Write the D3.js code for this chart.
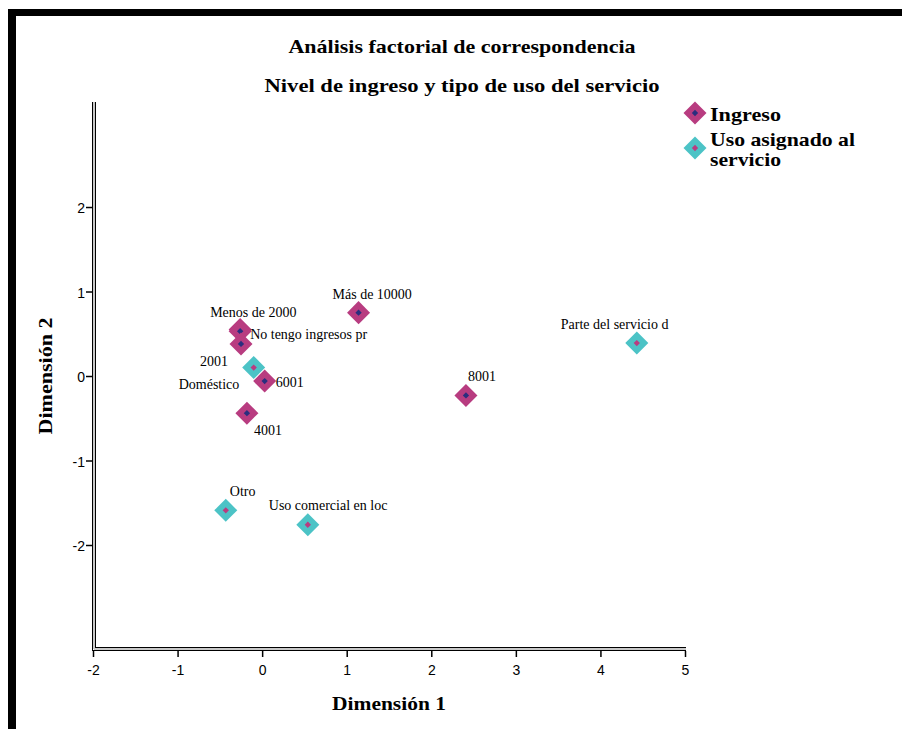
<!DOCTYPE html>
<html><head><meta charset="utf-8">
<script src="https://cdn.jsdelivr.net/npm/d3@7/dist/d3.min.js"></script>
<style>
html,body{margin:0;padding:0;background:#fff;}
svg{display:block;}
</style></head>
<body>
<svg id="chart" width="902" height="729"></svg>
<script>
// ---- data ----
const ingresoLabels = ["Menos de 2000","No tengo ingresos pr","2001","4001","6001","8001","Más de 10000"];
const ingresoDim1 = [-0.26,-0.26,-0.25,-0.18,0.03,2.41,1.14];
const ingresoDim2 = [0.55,0.53,0.38,-0.44,-0.06,-0.23,0.75];
const usoLabels = ["Doméstico","Parte del servicio d","Otro","Uso comercial en loc"];
const usoDim1 = [-0.10,4.43,-0.43,0.54];
const usoDim2 = [0.10,0.39,-1.59,-1.76];
const xTicks = [-2,-1,0,1,2,3,4,5];
const yTicks = [-2,-1,0,1,2];
const legendLabels = [["Ingreso"],["Uso asignado al","servicio"]];

// ---- label placement (layout, px offsets from point) ----
const labelOffset = {
  "Menos de 2000":[-30,-13],
  "No tengo ingresos pr":[10,8],
  "2001":[-41,22],
  "4001":[7,22],
  "6001":[11,6],
  "8001":[2,-14],
  "Más de 10000":[-26,-14],
  "Doméstico":[-75,21],
  "Parte del servicio d":[-76,-14],
  "Otro":[4,-14],
  "Uso comercial en loc":[-39,-15]
};

const MAG = "#b83c80", CYAN = "#4cc3c6", NAVY = "#2a2e7e";
const serif = "'Liberation Serif','Times New Roman',serif";
const sans = "'Liberation Sans',Arial,sans-serif";

const svg = d3.select("#chart");

// frame
svg.append("rect").attr("x",8).attr("y",9).attr("width",894).attr("height",7).attr("fill","#000");
svg.append("rect").attr("x",8).attr("y",9).attr("width",8).attr("height",720).attr("fill","#000");

// titles
function fitText(sel, w){ sel.attr("textLength", w).attr("lengthAdjust","spacingAndGlyphs"); }
svg.append("text").attr("x",462).attr("y",53).attr("text-anchor","middle")
  .attr("font-family",serif).attr("font-weight","bold").attr("font-size",19)
  .text("Análisis factorial de correspondencia").call(fitText,347);
svg.append("text").attr("x",462).attr("y",92).attr("text-anchor","middle")
  .attr("font-family",serif).attr("font-weight","bold").attr("font-size",19)
  .text("Nivel de ingreso y tipo de uso del servicio").call(fitText,395);

// scales
const x = d3.scaleLinear().domain([-2,5]).range([93,685]);
const y = d3.scaleLinear().domain([-3.219,3.231]).range([648,103]);

// axis lines (double line style)
const ax = svg.append("g");
ax.append("line").attr("x1",92.5).attr("x2",92.5).attr("y1",102).attr("y2",651).attr("stroke","#000").attr("stroke-width",1);
ax.append("line").attr("x1",94).attr("x2",94).attr("y1",102).attr("y2",649).attr("stroke","#c8c8c8").attr("stroke-width",2);
ax.append("line").attr("x1",95.5).attr("x2",95.5).attr("y1",102).attr("y2",647.5).attr("stroke","#000").attr("stroke-width",1);
ax.append("line").attr("x1",92).attr("x2",686).attr("y1",650.5).attr("y2",650.5).attr("stroke","#000").attr("stroke-width",1);
ax.append("line").attr("x1",94).attr("x2",686).attr("y1",649).attr("y2",649).attr("stroke","#c8c8c8").attr("stroke-width",2);
ax.append("line").attr("x1",95).attr("x2",686).attr("y1",647.5).attr("y2",647.5).attr("stroke","#000").attr("stroke-width",1);

const fmt = d => String(d);

// x axis
const gx = svg.append("g").attr("transform","translate(0,651)")
  .call(d3.axisBottom(x).tickValues(xTicks).tickFormat(fmt).tickSize(6).tickSizeOuter(0));
gx.select(".domain").remove();
gx.selectAll(".tick line").attr("stroke","#000").attr("stroke-width",1.5);
gx.selectAll(".tick text").attr("font-family",sans).attr("font-size",14).attr("fill","#000").attr("dy","0.9em").attr("y",11);

// y axis
const gy = svg.append("g").attr("transform","translate(92,0)")
  .call(d3.axisLeft(y).tickValues(yTicks).tickFormat(fmt).tickSize(6).tickSizeOuter(0));
gy.select(".domain").remove();
gy.selectAll(".tick line").attr("stroke","#000").attr("stroke-width",1.5);
gy.selectAll(".tick text").attr("font-family",sans).attr("font-size",14).attr("fill","#000").attr("x",-7).attr("dy","0.4em");

// axis titles
svg.append("text").attr("x",389).attr("y",710).attr("text-anchor","middle")
  .attr("font-family",serif).attr("font-weight","bold").attr("font-size",19)
  .text("Dimensión 1").call(fitText,114);
svg.append("text").attr("transform","translate(52,376) rotate(-90)").attr("text-anchor","middle")
  .attr("font-family",serif).attr("font-weight","bold").attr("font-size",19)
  .text("Dimensión 2").call(fitText,117);

// markers
const big = d3.symbol().type(d3.symbolSquare).size(265)();
const small = d3.symbol().type(d3.symbolSquare).size(20)();

const series = [
  {labels:ingresoLabels, d1:ingresoDim1, d2:ingresoDim2, fill:MAG, dot:NAVY},
  {labels:usoLabels, d1:usoDim1, d2:usoDim2, fill:CYAN, dot:MAG}
];
series.forEach(s=>{
  const pts = s.labels.map((l,i)=>({label:l, a:s.d1[i], b:s.d2[i]}));
  const g = svg.append("g");
  const p = g.selectAll("g.pt").data(pts).join("g").attr("class","pt")
    .attr("transform",d=>`translate(${x(d.a)},${y(d.b)})`);
  p.append("path").attr("d",big).attr("transform","rotate(45)").attr("fill",s.fill);
  p.append("path").attr("d",small).attr("transform","rotate(45)").attr("fill",s.dot);
});
series.forEach(s=>{
  s.labels.forEach((l,i)=>{
    const o = labelOffset[l];
    svg.append("text").attr("x",x(s.d1[i])+o[0]).attr("y",y(s.d2[i])+o[1])
      .attr("font-family",serif).attr("font-size",14).attr("fill","#000").text(l);
  });
});

// legend
const leg = svg.append("g");
const legColors = [[MAG,NAVY],[CYAN,MAG]];
const legY = [113,148];
legendLabels.forEach((lines,i)=>{
  leg.append("path").attr("d",big).attr("transform",`translate(695,${legY[i]}) rotate(45)`).attr("fill",legColors[i][0]);
  leg.append("path").attr("d",small).attr("transform",`translate(695,${legY[i]}) rotate(45)`).attr("fill",legColors[i][1]);
});
const legLines = [[legendLabels[0][0],121,71],[legendLabels[1][0],146,145],[legendLabels[1][1],166,71]];
legLines.forEach(([t,by,w])=>{
  leg.append("text").attr("x",710).attr("y",by).attr("font-family",serif).attr("font-weight","bold")
    .attr("font-size",19).text(t).call(fitText,w);
});
</script>
</body></html>
